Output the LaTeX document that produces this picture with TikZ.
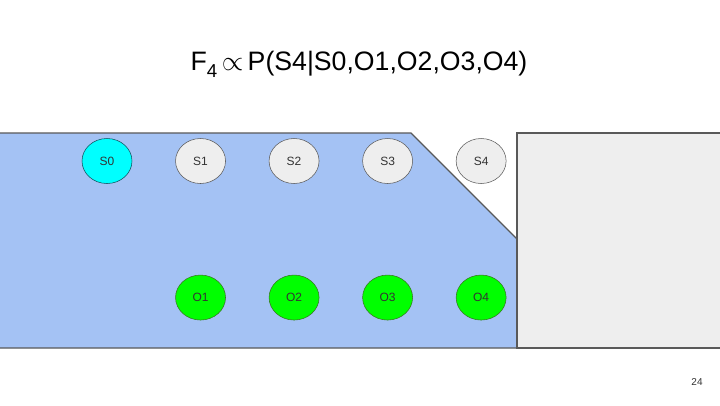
\documentclass[tikz,border=0pt]{standalone}
\usepackage{fontspec}
\setmainfont{Liberation Sans}
\usepackage{tikz}
\usetikzlibrary{positioning, shapes.geometric}
\definecolor{panelblue}{HTML}{A4C2F4}
\definecolor{panelgray}{HTML}{EEEEEE}
\definecolor{edgegray}{HTML}{595959}
\definecolor{textgray}{HTML}{333333}
\definecolor{obsgreen}{HTML}{00FF00}
\definecolor{obsedge}{HTML}{38761D}
\definecolor{startcyan}{HTML}{00FFFF}
\definecolor{startedge}{HTML}{134F5C}

\begin{document}
\begin{tikzpicture}[
  x=0.75pt, y=-0.75pt,
  node distance=32.25pt,
  every node/.style={font=\fontsize{9}{10}\selectfont, text=textgray},
  state/.style={draw=edgegray, ellipse, fill=panelgray, minimum width=37.5pt, minimum height=33.75pt, inner sep=0pt},
  start/.style={state, draw=startedge, fill=startcyan},
  obs/.style={state, draw=obsedge, fill=obsgreen},
  panel/.style={draw=edgegray, line width=0.8pt}
]
\useasboundingbox (0,0) rectangle (720,405);

% Panels
\fill[white] (0,0) rectangle (720,405);
\draw[panel, fill=panelblue] (-2,133) -- (411,133) -- (517,239) -- (517,348) -- (-2,348);
\draw[panel, fill=panelgray] (722,133) -- (517,133) -- (517,348) -- (722,348);

% Title
\node[font=\fontsize{20}{24}\selectfont, text=black] (title) at (359,64)
  {F\raisebox{-0.25em}{\fontsize{14}{16}\selectfont 4}\,$\propto$\,P(S4|S0,O1,O2,O3,O4)};

% Hidden states
\node[start] (s0) at (107,161) {S0};
\node[state, right=of s0] (s1) {S1};
\node[state, right=of s1] (s2) {S2};
\node[state, right=of s2] (s3) {S3};
\node[state, right=of s3] (s4) {S4};

% Observations
\node[obs, below=68.25pt of s1] (o1) {O1};
\node[obs, right=of o1] (o2) {O2};
\node[obs, right=of o2] (o3) {O3};
\node[obs, right=of o3] (o4) {O4};

% Page number
\node[font=\fontsize{7.5}{8}\selectfont] (page) at (697,382) {24};

\end{tikzpicture}
\end{document}
